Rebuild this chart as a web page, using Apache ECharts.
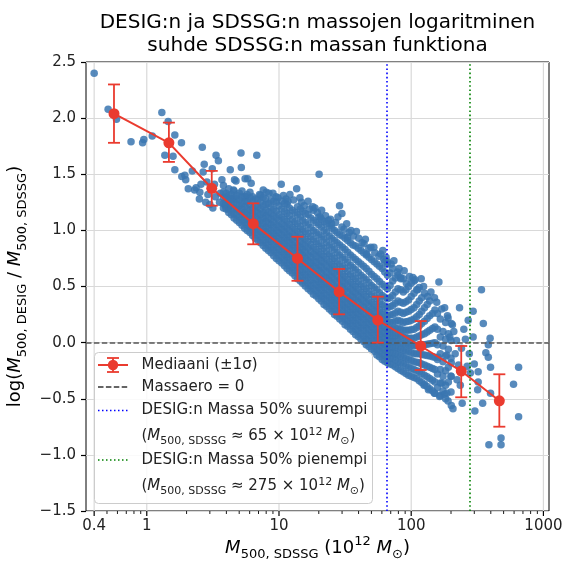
<!DOCTYPE html>
<html><head><meta charset="utf-8">
<script src="https://cdn.jsdelivr.net/npm/echarts@6/dist/echarts.min.js"></script>
<style>html,body{margin:0;padding:0;background:#fff}#c{width:564px;height:565px}</style>
</head><body><div id="c"></div>
<script>
// ---------- data ----------
const medianX = [0.565, 1.47, 3.10, 6.39, 13.8, 28.5, 55.9, 118, 239, 464];
const medianY = [2.04, 1.78, 1.375, 1.06, 0.75, 0.453, 0.20, -0.03, -0.253, -0.518];
const errLo   = [1.78, 1.61, 1.22, 0.876, 0.551, 0.252, 0.0, -0.244, -0.487, -0.749];
const errHi   = [2.30, 1.96, 1.53, 1.241, 0.943, 0.656, 0.409, 0.192, -0.03, -0.282];

const zeroLine = 0;
const line50up = 65;
const line50down = 275;

const xMajorTicks = [0.4, 1, 10, 100, 1000];
const xTickLabels = ['0.4', '1', '10', '100', '1000'];
const xMinorTicks = [0.5,0.6,0.7,0.8,0.9,2,3,4,5,6,7,8,9,20,30,40,50,60,70,80,90,200,300,400,500,600,700,800,900];

const outlierPts = [
 [0.40,2.40],[0.51,2.08],[0.59,1.99],[0.76,1.79],[0.93,1.78],[0.95,1.81],[1.10,1.84],[1.30,2.05],[1.45,1.97],[1.63,1.85],
 [1.83,1.78],[1.37,1.67],[1.58,1.66],[1.63,1.54],[1.84,1.48],[1.94,1.49],[1.97,1.45],[2.06,1.37],[2.21,1.53],[2.36,1.38],
 [2.63,1.74],[2.72,1.59],[3.34,1.67],[3.48,1.62],[2.67,1.52],[2.57,1.41],[2.52,1.34],[3.70,1.45],[4.28,1.54],[4.53,1.36],
 [4.61,1.45],[2.79,1.25],[3.16,1.20],[3.55,1.25],[3.92,1.22],[4.41,1.28],[4.13,1.19],[3.13,1.55],[2.3,1.36],[2.5,1.28],
 [2.9,1.32],[3.0,1.23],[3.3,1.30],[3.6,1.33],[3.8,1.40],[4.0,1.30],[2.85,1.43],[3.25,1.41],
 [5.16,1.69],[6.79,1.67],[5.19,1.56],[4.73,1.44],[5.54,1.46],[6.16,1.42],[5.80,1.46],[10.4,1.41],[13.6,1.37],[20.1,1.50],
 [12.1,1.32],[14.4,1.29],[16.6,1.26],[8.0,1.34],[7.13,1.32],[9.83,1.29],[11.7,1.26],[18.7,1.20],[5.64,1.30],[18.2,1.18],
 [28.7,1.22],[29.9,1.15],[29.9,1.03],[23.7,1.09],[25.0,1.06],[20.5,1.12],[40.1,0.93],[47.8,0.84],[52.2,0.85],[58.7,0.79],
 [46,0.79],[66.1,0.72],[78.7,0.63],[103,0.58],[119,0.57],[83.4,0.57],[92,0.53],[112,0.47],[133,0.41],[162,0.54],
 [150,0.40],[35,1.00],[33,0.94],[44,0.88],[62,0.74],
 [340,0.47],[232,0.31],[294,0.28],[351,0.17],[179,0.31],[201,0.17],[395,0.04],[294,0.05],[257,0.03],[220,0.02],
 [383,-0.02],[367,-0.09],[383,-0.13],[398,-0.22],[649,-0.22],[594,-0.37],[398,-0.45],[318,-0.42],[347,-0.54],[303,-0.61],
 [243,-0.54],[201,-0.56],[207,-0.59],[164,-0.48],[150,-0.45],[135,-0.42],[125,-0.38],[649,-0.66],[478,-0.85],[478,-0.91],
 [387,-0.91],[321,-0.26],[300,-0.19],[321,-0.35],[1110,-0.42],[186,-0.11],[201,-0.18],[160,-0.13],[265,-0.21],[280,-0.27],
 [222,-0.33],[171,-0.36],[186,-0.45],[235,-0.38],[250,0.12],[270,0.20],[190,0.22],[210,0.10],[240,-0.05],[275,-0.10]
];

// points along the ragged upper edge of the cloud
const fringePts = [
 [7.6,1.36],[8.4,1.33],[9.0,1.33],[9.5,1.30],[10.8,1.31],[11.3,1.28],[12.9,1.27],[14.8,1.25],[15.5,1.22],[17.0,1.19],
 [18.0,1.21],[19.5,1.16],[21.0,1.18],[22.5,1.13],[24.5,1.10],[26.8,1.07],[27.9,1.12],[31.0,1.01],[32.5,1.06],[34.0,0.98],
 [36.5,0.95],[38.5,0.99],[42.5,0.89],[45.0,0.92],[49.5,0.85],[53.0,0.80],[57.0,0.77],[61.0,0.82],[64.5,0.76],[70.5,0.70],
 [74.0,0.73],[81.0,0.66],[88.5,0.64],[97.0,0.59],[107,0.56],[124,0.50],[141,0.45],[156,0.36],[170,0.30],[188,0.24],
 [205,0.16],[196,0.05],[215,-0.10],[228,-0.20],[200,-0.30],[178,-0.46],[190,-0.52]
];

// dense cloud, read column by column
const denseX = [3.80,4.17,4.57,5.01,5.50,6.03,6.61,7.24,7.94,8.71,9.55,10.5,11.5,12.6,13.8,15.1,16.6,18.2,20.0,21.9,
 24.0,26.3,28.8,31.6,34.7,38.0,41.7,45.7,50.1,55.0,60.3,66.1,72.4,79.4,87.1,95.5,105,115,126,138,151,166,182,200];
const denseY = [
 [1.20,1.24,1.29,1.34],
 [1.16,1.21,1.26,1.31,1.37],
 [1.11,1.15,1.20,1.25,1.29,1.35],
 [1.07,1.12,1.17,1.22,1.27,1.33],
 [1.02,1.07,1.12,1.16,1.21,1.26,1.30],
 [0.98,1.03,1.08,1.13,1.18,1.23,1.29,1.34],
 [0.93,0.98,1.03,1.07,1.12,1.17,1.22,1.28],
 [0.89,0.94,0.99,1.04,1.09,1.14,1.19,1.25,1.31],
 [0.84,0.89,0.94,0.99,1.03,1.08,1.13,1.18,1.23,1.28],
 [0.80,0.85,0.90,0.95,1.00,1.05,1.10,1.15,1.21,1.27],
 [0.75,0.80,0.85,0.90,0.95,1.00,1.05,1.11,1.17,1.25],
 [0.71,0.76,0.81,0.86,0.91,0.96,1.01,1.06,1.12,1.19,1.26],
 [0.66,0.71,0.76,0.81,0.86,0.91,0.96,1.02,1.08,1.15,1.23],
 [0.62,0.67,0.72,0.77,0.82,0.87,0.92,0.97,1.03,1.10,1.18],
 [0.57,0.62,0.67,0.72,0.77,0.82,0.87,0.93,0.99,1.06,1.14,1.21],
 [0.53,0.58,0.63,0.68,0.73,0.78,0.83,0.88,0.94,1.01,1.09,1.17],
 [0.48,0.53,0.58,0.63,0.68,0.73,0.78,0.84,0.90,0.97,1.05,1.14],
 [0.43,0.48,0.53,0.58,0.63,0.68,0.73,0.79,0.85,0.92,1.00,1.09],
 [0.39,0.44,0.49,0.54,0.59,0.64,0.69,0.75,0.81,0.88,0.96,1.05,1.12],
 [0.34,0.39,0.44,0.49,0.54,0.59,0.65,0.71,0.77,0.84,0.92,1.00,1.08],
 [0.30,0.35,0.40,0.45,0.50,0.55,0.60,0.66,0.72,0.79,0.87,0.95,1.04],
 [0.25,0.30,0.35,0.40,0.45,0.50,0.56,0.62,0.68,0.75,0.83,0.91,1.00],
 [0.21,0.26,0.31,0.36,0.41,0.46,0.51,0.57,0.63,0.70,0.78,0.87,0.96],
 [0.16,0.21,0.26,0.31,0.36,0.41,0.47,0.53,0.59,0.66,0.74,0.83,0.93],
 [0.12,0.17,0.22,0.27,0.32,0.37,0.42,0.48,0.54,0.61,0.69,0.78,0.89],
 [0.07,0.12,0.17,0.22,0.27,0.32,0.38,0.44,0.50,0.57,0.65,0.74,0.86],
 [0.03,0.08,0.13,0.18,0.23,0.28,0.33,0.39,0.45,0.52,0.60,0.70,0.82],
 [-0.02,0.03,0.08,0.13,0.18,0.23,0.29,0.35,0.41,0.48,0.56,0.66,0.78],
 [-0.06,-0.01,0.04,0.09,0.14,0.19,0.24,0.30,0.36,0.43,0.51,0.61,0.74],
 [-0.11,-0.06,-0.01,0.04,0.09,0.14,0.20,0.26,0.32,0.39,0.47,0.57,0.70],
 [-0.15,-0.10,-0.05,0.00,0.05,0.10,0.15,0.21,0.27,0.34,0.42,0.52,0.66],
 [-0.18,-0.13,-0.08,-0.03,0.02,0.07,0.12,0.18,0.24,0.31,0.39,0.48,0.60,0.70],
 [-0.20,-0.14,-0.09,-0.04,0.01,0.06,0.12,0.18,0.25,0.33,0.42,0.55,0.66],
 [-0.23,-0.17,-0.11,-0.05,0.01,0.07,0.13,0.20,0.28,0.37,0.48,0.60],
 [-0.26,-0.19,-0.13,-0.07,-0.01,0.05,0.11,0.18,0.26,0.35,0.45,0.57],
 [-0.29,-0.22,-0.15,-0.08,-0.02,0.04,0.11,0.19,0.28,0.38,0.50],
 [-0.31,-0.24,-0.17,-0.10,-0.03,0.04,0.12,0.21,0.31,0.44,0.55],
 [-0.34,-0.26,-0.18,-0.10,-0.02,0.06,0.15,0.25,0.37,0.49],
 [-0.37,-0.29,-0.20,-0.11,-0.02,0.08,0.19,0.31,0.44],
 [-0.41,-0.32,-0.22,-0.12,-0.01,0.11,0.24,0.37],
 [-0.45,-0.35,-0.24,-0.13,0.00,0.14,0.29],
 [-0.47,-0.36,-0.24,-0.10,0.05,0.21],
 [-0.50,-0.38,-0.25,-0.12,0.03,0.18],
 [-0.44,-0.30,-0.14,0.02]
];

// dense cloud, in-between columns
const denseX2 = [3.98,4.37,4.79,5.25,5.75,6.31,6.92,7.59,8.32,9.12,10.0,11.0,12.0,13.2,14.5,15.8,17.4,19.1,20.9,22.9,
 25.1,27.5,30.2,33.1,36.3,39.8,43.7,47.9,52.5,57.5,63.1,69.2,75.9,83.2,91.2,100,110,120,132,145,158,174,191];
const denseY2 = [
 [1.19,1.235,1.28,1.33],
 [1.14,1.185,1.23,1.28,1.32],
 [1.09,1.14,1.19,1.235,1.28,1.31],
 [1.045,1.095,1.145,1.19,1.24,1.30,1.35],
 [1.00,1.05,1.10,1.145,1.19,1.25,1.32],
 [0.955,1.005,1.055,1.10,1.15,1.20,1.26,1.30],
 [0.91,0.96,1.01,1.055,1.10,1.155,1.21,1.27],
 [0.865,0.915,0.965,1.015,1.065,1.11,1.16,1.22,1.29],
 [0.82,0.87,0.92,0.97,1.02,1.065,1.115,1.165,1.24],
 [0.775,0.825,0.875,0.925,0.975,1.025,1.075,1.13,1.19,1.26],
 [0.73,0.78,0.83,0.88,0.93,0.98,1.03,1.085,1.14,1.22],
 [0.685,0.735,0.785,0.835,0.885,0.935,0.985,1.04,1.10,1.17,1.24],
 [0.64,0.69,0.74,0.79,0.84,0.89,0.94,0.995,1.055,1.13,1.20],
 [0.595,0.645,0.695,0.745,0.795,0.845,0.895,0.95,1.01,1.08,1.16],
 [0.55,0.60,0.65,0.70,0.75,0.80,0.85,0.905,0.965,1.035,1.12,1.19],
 [0.505,0.555,0.605,0.655,0.705,0.755,0.805,0.86,0.92,0.99,1.07,1.15],
 [0.46,0.51,0.56,0.61,0.66,0.71,0.76,0.815,0.875,0.945,1.025,1.11],
 [0.415,0.465,0.515,0.565,0.615,0.665,0.715,0.77,0.83,0.90,0.98,1.07],
 [0.37,0.42,0.47,0.52,0.57,0.62,0.675,0.73,0.79,0.86,0.94,1.03,1.10],
 [0.325,0.375,0.425,0.475,0.525,0.575,0.63,0.685,0.745,0.815,0.895,0.98,1.06],
 [0.28,0.33,0.38,0.43,0.48,0.53,0.585,0.64,0.70,0.77,0.85,0.93,1.02],
 [0.235,0.285,0.335,0.385,0.435,0.485,0.54,0.595,0.655,0.725,0.805,0.89,0.98],
 [0.19,0.24,0.29,0.34,0.39,0.44,0.495,0.55,0.61,0.68,0.76,0.85,0.95],
 [0.145,0.195,0.245,0.295,0.345,0.395,0.45,0.505,0.565,0.635,0.715,0.805,0.91],
 [0.10,0.15,0.20,0.25,0.30,0.35,0.405,0.46,0.52,0.59,0.67,0.76,0.87],
 [0.055,0.105,0.155,0.205,0.255,0.305,0.36,0.415,0.475,0.545,0.625,0.72,0.84],
 [0.01,0.06,0.11,0.16,0.21,0.26,0.315,0.37,0.43,0.50,0.58,0.68,0.80],
 [-0.035,0.015,0.065,0.115,0.165,0.215,0.27,0.325,0.385,0.455,0.535,0.635,0.76],
 [-0.08,-0.03,0.02,0.07,0.12,0.17,0.225,0.28,0.34,0.41,0.49,0.59,0.72],
 [-0.125,-0.075,-0.025,0.025,0.075,0.125,0.18,0.235,0.295,0.365,0.445,0.545,0.68],
 [-0.165,-0.115,-0.065,-0.015,0.035,0.085,0.135,0.195,0.255,0.325,0.405,0.50,0.63,0.72],
 [-0.19,-0.14,-0.09,-0.04,0.01,0.065,0.12,0.18,0.245,0.32,0.40,0.51,0.62],
 [-0.215,-0.155,-0.10,-0.045,0.01,0.065,0.125,0.19,0.265,0.35,0.45,0.575],
 [-0.245,-0.18,-0.12,-0.06,0.00,0.06,0.12,0.19,0.27,0.36,0.47,0.58],
 [-0.275,-0.205,-0.14,-0.075,-0.015,0.045,0.11,0.185,0.27,0.365,0.47],
 [-0.30,-0.23,-0.16,-0.09,-0.025,0.04,0.115,0.20,0.295,0.41,0.53],
 [-0.32,-0.25,-0.175,-0.10,-0.025,0.05,0.135,0.23,0.34,0.47],
 [-0.355,-0.275,-0.19,-0.105,-0.02,0.07,0.17,0.28,0.40],
 [-0.39,-0.305,-0.21,-0.115,-0.015,0.095,0.215,0.34],
 [-0.43,-0.335,-0.23,-0.125,-0.005,0.125,0.26],
 [-0.40,-0.28,-0.15,-0.02,0.12,0.26],
 [-0.43,-0.30,-0.17,-0.03,0.10],
 [-0.35,-0.22,-0.06,0.08]
];

// ---------- styles ----------
const FONT = 'DejaVu Sans';
const RED = '#ea3b2f';
const BLUE_PTS = '#3a76b0';
const GRID_C = '#d9d9d9';
const X_MIN = 0.347, X_MAX = 1102, Y_MIN = -1.5, Y_MAX = 2.5;

const scatterData = outlierPts.concat(fringePts);
denseX.forEach((x, i) => denseY[i].forEach(y => scatterData.push([x, y])));
denseX2.forEach((x, i) => denseY2[i].forEach(y => scatterData.push([x, y])));

const chart = echarts.init(document.getElementById('c'), null, {renderer: 'canvas'});

const subRich = (fs, lh) => ({
  i: {fontStyle: 'italic', fontSize: fs, lineHeight: lh, fontFamily: FONT, color: '#000'},
  s: {fontSize: Math.round(fs * 0.72), lineHeight: Math.round(fs * 0.72), verticalAlign: 'bottom', fontFamily: FONT, color: '#000'},
  p: {fontSize: Math.round(fs * 0.72), lineHeight: Math.round(fs * 0.72), verticalAlign: 'top', fontFamily: FONT, color: '#000'}
});

function renderXGrid(params, api) {
  const v = api.value(0);
  const a = api.coord([v, Y_MAX]), b = api.coord([v, Y_MIN]);
  return {type: 'line', shape: {x1: a[0], y1: a[1], x2: b[0], y2: b[1]}, style: {stroke: GRID_C, lineWidth: 1.2}, silent: true};
}
function renderXMajor(params, api) {
  const v = api.value(0);
  const p = api.coord([v, Y_MIN]);
  return {type: 'group', silent: true, children: [
    {type: 'line', shape: {x1: p[0], y1: p[1], x2: p[0], y2: p[1] + 5}, style: {stroke: '#000', lineWidth: 1.2}},
    {type: 'text', x: p[0], y: p[1] + 8, style: {text: xTickLabels[params.dataIndex], fontSize: 15, fontFamily: FONT, fill: '#222', align: 'center', verticalAlign: 'top'}}
  ]};
}
function renderXMinor(params, api) {
  const v = api.value(0);
  const p = api.coord([v, Y_MIN]);
  return {type: 'line', silent: true, shape: {x1: p[0], y1: p[1], x2: p[0], y2: p[1] + 3}, style: {stroke: '#000', lineWidth: 0.9}};
}
function renderErr(params, api) {
  const x = api.value(0);
  const lo = api.coord([x, api.value(1)]), hi = api.coord([x, api.value(2)]);
  const c = 6, st = {stroke: RED, lineWidth: 1.8};
  return {type: 'group', children: [
    {type: 'line', shape: {x1: lo[0], y1: lo[1], x2: hi[0], y2: hi[1]}, style: st},
    {type: 'line', shape: {x1: lo[0] - c, y1: lo[1], x2: lo[0] + c, y2: lo[1]}, style: st},
    {type: 'line', shape: {x1: hi[0] - c, y1: hi[1], x2: hi[0] + c, y2: hi[1]}, style: st}
  ]};
}

// legend (drawn as graphics)
const LX0 = 98, LX1 = 128, LT = 141.5;
const legRich = subRich(15, 20);
const legendEls = [
  {type: 'rect', shape: {x: 94.5, y: 352.5, width: 278, height: 151, r: 4}, style: {fill: 'rgba(255,255,255,0.85)', stroke: '#cccccc', lineWidth: 1}},
  {type: 'line', shape: {x1: LX0, y1: 365, x2: LX1, y2: 365}, style: {stroke: RED, lineWidth: 2}},
  {type: 'line', shape: {x1: 113, y1: 358, x2: 113, y2: 372}, style: {stroke: RED, lineWidth: 1.8}},
  {type: 'line', shape: {x1: 107, y1: 358, x2: 119, y2: 358}, style: {stroke: RED, lineWidth: 1.8}},
  {type: 'line', shape: {x1: 107, y1: 372, x2: 119, y2: 372}, style: {stroke: RED, lineWidth: 1.8}},
  {type: 'circle', shape: {cx: 113, cy: 365, r: 5.2}, style: {fill: RED}},
  {type: 'line', shape: {x1: LX0, y1: 387, x2: LX1, y2: 387}, style: {stroke: '#333', lineWidth: 1.5, lineDash: [5.5, 2.4]}},
  {type: 'line', shape: {x1: LX0, y1: 410.5, x2: LX1, y2: 410.5}, style: {stroke: '#0000ff', lineWidth: 1.5, lineDash: [1.5, 2.5]}},
  {type: 'line', shape: {x1: LX0, y1: 460, x2: LX1, y2: 460}, style: {stroke: '#008000', lineWidth: 1.5, lineDash: [1.5, 2.5]}},
  {type: 'text', x: LT, y: 365, style: {text: 'Mediaani (±1σ)', fontSize: 15, fontFamily: FONT, fill: '#222', verticalAlign: 'middle'}},
  {type: 'text', x: LT, y: 387, style: {text: 'Massaero = 0', fontSize: 15, fontFamily: FONT, fill: '#222', verticalAlign: 'middle'}},
  {type: 'text', x: LT, y: 410.5, style: {text: 'DESIG:n Massa 50% suurempi', fontSize: 15, fontFamily: FONT, fill: '#222', verticalAlign: 'middle'}},
  {type: 'text', x: LT, y: 436.5, style: {text: '({i|M}{s|500, SDSSG} ≈ 65 × 10{p|12} {i|M}{s|⊙})', fontSize: 15, lineHeight: 20, fontFamily: FONT, fill: '#222', verticalAlign: 'middle', rich: legRich}},
  {type: 'text', x: LT, y: 460, style: {text: 'DESIG:n Massa 50% pienempi', fontSize: 15, fontFamily: FONT, fill: '#222', verticalAlign: 'middle'}},
  {type: 'text', x: LT, y: 486.5, style: {text: '({i|M}{s|500, SDSSG} ≈ 275 × 10{p|12} {i|M}{s|⊙})', fontSize: 15, lineHeight: 20, fontFamily: FONT, fill: '#222', verticalAlign: 'middle', rich: legRich}}
].map(e => Object.assign({z: 100, silent: true}, e));

const axisNameRich = subRich(18, 26);

chart.setOption({
  animation: false,
  backgroundColor: '#fff',
  grid: {left: 86, right: 15, top: 62, bottom: 54, show: true, borderColor: '#000', borderWidth: 1, backgroundColor: 'transparent', outerBoundsMode: 'none'},
  xAxis: {
    type: 'log', logBase: 10, min: X_MIN, max: X_MAX,
    axisLine: {show: false}, axisTick: {show: false}, axisLabel: {show: false}, splitLine: {show: false}, minorTick: {show: false},
    name: '{i|M}{s|500, SDSSG} (10{p|12} {i|M}{s|⊙})', nameLocation: 'middle', nameGap: 24,
    nameTextStyle: {fontSize: 18, lineHeight: 26, fontFamily: FONT, color: '#000', rich: axisNameRich}
  },
  yAxis: {
    type: 'value', min: Y_MIN, max: Y_MAX, interval: 0.5,
    axisLine: {show: false},
    axisTick: {show: true, length: 5, lineStyle: {color: '#000', width: 1.2}},
    axisLabel: {fontSize: 15, fontFamily: FONT, color: '#222', margin: 10,
      formatter: v => (v < 0 ? '\u2212' : '') + Math.abs(v).toFixed(1)},
    splitLine: {show: true, lineStyle: {color: GRID_C, width: 1.2}},
    name: 'log({i|M}{s|500, DESIG} / {i|M}{s|500, SDSSG})', nameLocation: 'middle', nameGap: 51, nameRotate: 90,
    nameTextStyle: {fontSize: 18, lineHeight: 26, fontFamily: FONT, color: '#000', rich: axisNameRich}
  },
  graphic: [
    {type: 'text', x: 317.5, y: 11, z: 100, style: {text: 'DESIG:n ja SDSSG:n massojen logaritminen\nsuhde SDSSG:n massan funktiona', fontSize: 20, lineHeight: 23, fontFamily: FONT, fill: '#000', align: 'center', verticalAlign: 'top'}}
  ].concat(legendEls),
  series: [
    {type: 'custom', renderItem: renderXGrid, data: xMajorTicks.map(v => [v, Y_MIN]), z: 0, silent: true, clip: false},
    {type: 'custom', renderItem: renderXMajor, data: xMajorTicks.map(v => [v, Y_MIN]), z: 10, silent: true, clip: false},
    {type: 'custom', renderItem: renderXMinor, data: xMinorTicks.map(v => [v, Y_MIN]), z: 10, silent: true, clip: false},
    {
      type: 'scatter', data: scatterData, symbolSize: 7.5, z: 2, silent: true, clip: true, large: false,
      itemStyle: {color: BLUE_PTS, opacity: 0.85},
      markLine: {
        silent: true, symbol: 'none', z: 5, label: {show: false},
        data: [
          {yAxis: zeroLine, lineStyle: {color: '#555', width: 1.5, type: [5.5, 2.4]}},
          {xAxis: line50up, lineStyle: {color: '#0000ff', width: 1.6, type: [1.6, 2.6]}},
          {xAxis: line50down, lineStyle: {color: '#008000', width: 1.6, type: [1.6, 2.6]}}
        ]
      }
    },
    {type: 'custom', renderItem: renderErr, data: medianX.map((x, i) => [x, errLo[i], errHi[i]]), encode: {x: 0, y: [1, 2]}, z: 6, silent: true},
    {
      type: 'line', data: medianX.map((x, i) => [x, medianY[i]]), z: 7, silent: true,
      symbol: 'circle', symbolSize: 11, showAllSymbol: true,
      lineStyle: {color: RED, width: 2}, itemStyle: {color: RED}
    }
  ]
});
</script>
</body></html>
